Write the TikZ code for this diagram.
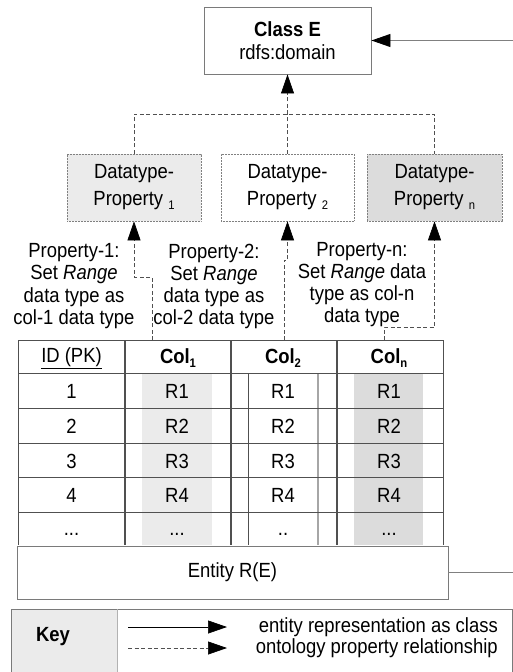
\documentclass[tikz,border=0pt]{standalone}
\usepackage{fontspec}
\setmainfont{Liberation Sans}[FakeStretch=0.9]
\usetikzlibrary{arrows.meta}
\definecolor{lightcell}{HTML}{EBEBEB}
\definecolor{darkcell}{HTML}{DCDCDC}
\definecolor{rulec}{HTML}{505050}
\definecolor{framec}{HTML}{7A7A7A}
\newcommand\lowidx[1]{\raisebox{-3.5pt}{\fontsize{12.5}{12.5}\selectfont #1}}
\begin{document}
\begin{tikzpicture}[x=1pt,y=-1pt,
  txt/.style={font=\fontsize{20.5}{22.2}\selectfont, inner sep=0pt, align=center},
  classbox/.style={draw=framec, line width=0.9pt, fill=white, inner sep=0pt,
    minimum width=167pt, minimum height=67pt, align=center,
    font=\fontsize{20.5}{23}\selectfont},
  propbox/.style={draw=gray, line width=0.7pt, dash pattern=on 0.8pt off 0.7pt,
    minimum height=67pt, inner sep=0pt, align=center,
    font=\fontsize{20.5}{27}\selectfont},
  entbox/.style={draw=framec, line width=0.9pt, inner sep=0pt,
    minimum width=431pt, minimum height=53pt, font=\fontsize{20.5}{22}\selectfont},
  tip/.style={-{Triangle[length=19pt,width=13pt,color=black]}},
  rel/.style={draw=rulec, line width=0.7pt, dash pattern=on 4pt off 2.5pt},
  solidrel/.style={draw=gray, line width=0.9pt},
  gridline/.style={draw=rulec, line width=0.9pt},
  divider/.style={draw=rulec, line width=1.5pt},
]
\useasboundingbox (0,0) rectangle (513,672);

% ---- class and datatype properties
\node[classbox] (ce) at (287.5,40.5) {\textbf{Class E}\\rdfs:domain};
\node[propbox, fill=lightcell, minimum width=134pt] (b1) at (134,187.5) {Datatype-\\Property \lowidx{1}};
\node[propbox, fill=white, minimum width=133pt] (b2) at (287.5,187.5) {Datatype-\\Property \lowidx{2}};
\node[propbox, fill=darkcell, minimum width=135pt] (bn) at (434.5,187.5) {Datatype-\\Property \lowidx{n}};

\coordinate (hub) at (287.5,114);
\draw[rel] (b1.north) |- (hub) -| (bn.north);
\draw[rel] (b2.north) -- (hub);
\draw[rel, tip] (hub) -- (ce.south);

% ---- range annotations
\node[txt] (t1) at (74,286) {Property-1:\\Set \textit{Range}\\data type as\\col-1 data type};
\node[txt] (t2) at (214,286.5) {Property-2:\\Set \textit{Range}\\data type as\\col-2 data type};
\node[txt] (tn) at (362,284.5) {Property-n:\\Set \textit{Range} data\\type as col-n\\data type};

% ---- relational table
\fill[lightcell] (142,373) rectangle (212,545);
\fill[darkcell] (354,373) rectangle (423,545);
\draw[draw=rulec, line width=0.9pt] (248,373) -- (248,545);
\draw[draw=gray!70, line width=1.4pt] (318,373) -- (318,545);
\draw[gridline] (248,373) -- (318,373);
\foreach \yy in {340,373,408,443,477,512}
  \draw[gridline] (18,\yy) -- (443,\yy);
\draw[gridline] (18,340) -- (18,545);
\draw[gridline] (443,340) -- (443,545);
\foreach \xx in {125,231,337}
  \draw[divider] (\xx,340) -- (\xx,545);

\node[txt] (h0) at (71.5,358) {\underline{ID (PK)}};
\node[txt] (h1) at (178,358) {\textbf{Col\lowidx{1}}};
\node[txt] (h2) at (283,358) {\textbf{Col\lowidx{2}}};
\node[txt] (hn) at (389,358) {\textbf{Col\lowidx{n}}};
\foreach \r/\yy in {1/391.5,2/426,3/461,4/495.5}{
  \node[txt] (id\r) at (71.5,\yy) {\r};
  \node[txt] (ca\r) at (177,\yy) {R\r};
  \node[txt] (cb\r) at (283,\yy) {R\r};
  \node[txt] (cn\r) at (389,\yy) {R\r};
}
\node[txt] (id5) at (71.5,534) {...};
\node[txt] (ca5) at (177,534) {...};
\node[txt] (cb5) at (283,534) {..};
\node[txt] (cn5) at (389,534) {...};

\node[entbox] (ent) at (232.5,572.5) {Entity R(E)};

% ---- column to property links
\coordinate (c1) at (152,340);
\coordinate (c2) at (284,340);
\coordinate (cn) at (384,340);
\draw[rel, tip] (c1) -- ++(0,-63) -| (b1.south);
\draw[rel, tip] (c2) -- ++(0,-80) -| (b2.south);
\draw[rel, tip] (cn) -- ++(0,-13) -| (bn.south);

% ---- entity to class
\draw[solidrel, tip] (ent.east) -- ++(90,0) |- (ce.east);

% ---- key
\fill[lightcell] (11,609) rectangle (117,690);
\draw[draw=framec, line width=0.9pt] (11,690) -- (11,609) -- (512,609) -- (512,690);
\draw[draw=gray!60, line width=0.9pt] (117,609) -- (117,690);
\node[txt] (key) at (53,637) {\textbf{Key}};
\coordinate (ka) at (128,627);
\coordinate (kb) at (227,627);
\coordinate (kc) at (128,648);
\coordinate (kd) at (227,648);
\draw[draw=black, line width=0.7pt, tip] (ka) -- (kb);
\draw[rel, tip] (kc) -- (kd);
\node[txt, anchor=east] (k1) at (498,627) {entity representation as class};
\node[txt, anchor=east] (k2) at (498,648) {ontology property relationship};
\end{tikzpicture}
\end{document}
